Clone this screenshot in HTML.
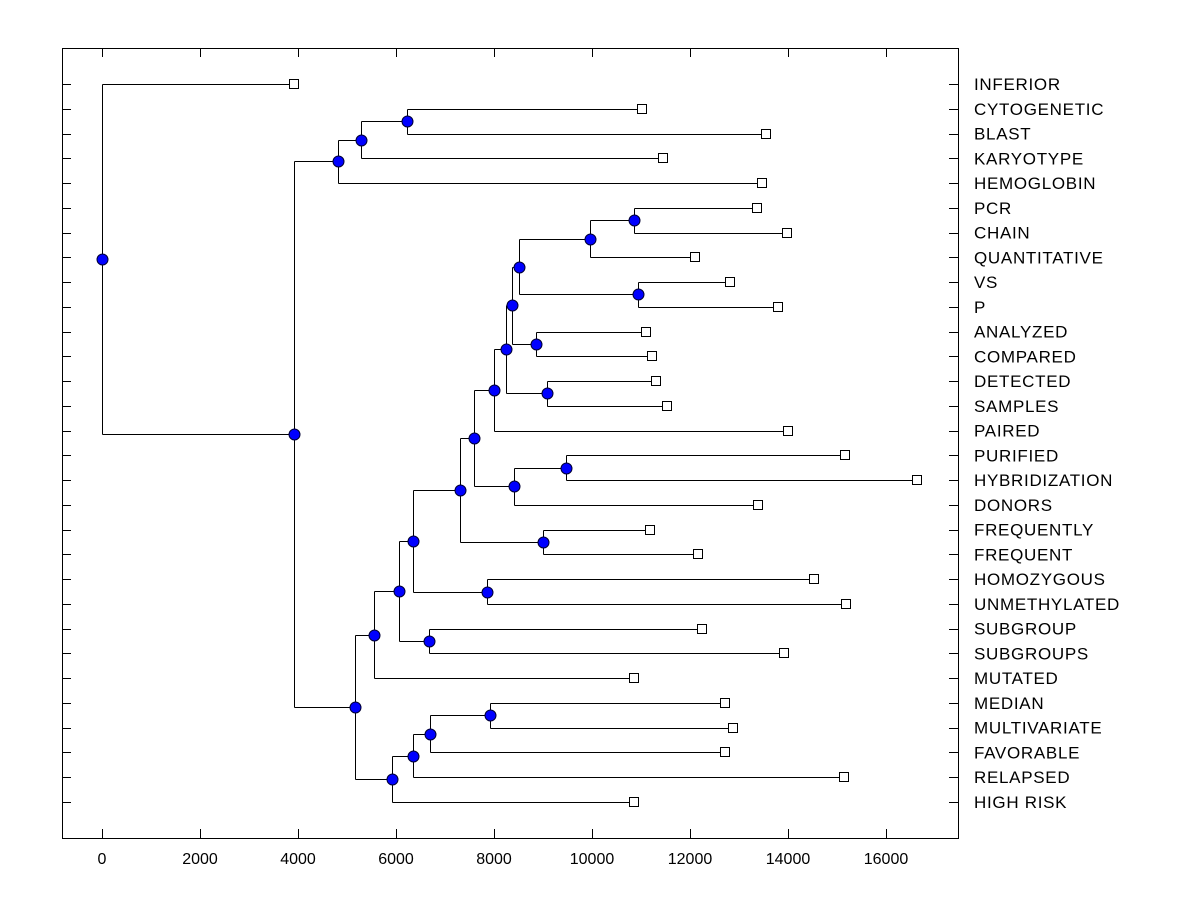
<!DOCTYPE html>
<html><head><meta charset="utf-8"><style>
body{margin:0;background:#fff;}
svg text{font-family:"Liberation Sans",Arial,sans-serif;}
</style></head><body>
<svg id="chart" width="1200" height="900" viewBox="0 0 1200 900" xmlns="http://www.w3.org/2000/svg">
<rect x="0" y="0" width="1200" height="900" fill="#fff"/>
<g id="g"></g>
</svg>
<script>
const labels = ["INFERIOR","CYTOGENETIC","BLAST","KARYOTYPE","HEMOGLOBIN","PCR","CHAIN","QUANTITATIVE","VS","P","ANALYZED","COMPARED","DETECTED","SAMPLES","PAIRED","PURIFIED","HYBRIDIZATION","DONORS","FREQUENTLY","FREQUENT","HOMOZYGOUS","UNMETHYLATED","SUBGROUP","SUBGROUPS","MUTATED","MEDIAN","MULTIVARIATE","FAVORABLE","RELAPSED","HIGH RISK"];
const leafValues = [3920,11020,13550,11450,13470,13370,13980,12100,12820,13800,11100,11220,11310,11530,14000,15160,16630,13390,11180,12160,14530,15180,12240,13920,10860,12710,12880,12710,15140,10860];
const mergeLeft = [5,30,8,31,10,33,12,35,37,15,39,38,18,41,20,43,22,45,47,25,49,50,51,48,1,54,55,56,0];
const mergeRight = [6,7,9,32,11,34,13,36,14,16,17,40,19,42,21,44,23,46,24,26,27,28,29,52,2,3,4,53,57];
const mergeHeights = [10860,9960,10940,8510,8860,8370,9080,8240,7990,9470,8410,7590,9000,7310,7860,6350,6670,6060,5550,7920,6690,6350,5920,5160,6220,5290,4816,3920,0];
const xTicks = [0,2000,4000,6000,8000,10000,12000,14000,16000];

const NS="http://www.w3.org/2000/svg";
const g=document.getElementById('g');
const L=62,R=958,T=48,B=838;
const xs=v=>102+v*0.049;
const ys=i=>84+i*(802-84)/29;
function el(t,a){const e=document.createElementNS(NS,t);for(const k in a)e.setAttribute(k,a[k]);g.appendChild(e);return e;}

let fr=el('rect',{x:L+0.5,y:T+0.5,width:R-L,height:B-T,fill:'none',stroke:'#000','stroke-width':1});


xTicks.forEach(v=>{
  const x=Math.round(xs(v))+0.5;
  let t1=el('line',{x1:x,y1:B,x2:x,y2:B-9,stroke:'#000'});
  
  
  let t2=el('line',{x1:x,y1:T,x2:x,y2:T+9,stroke:'#000'});
  
  
  let tx=el('text',{x:xs(v),y:864,'font-size':16,'text-anchor':'middle',fill:'#000'});
  tx.textContent=v;
  
  
});
labels.forEach((lb,i)=>{
  const y=Math.round(ys(i))+0.5;
  let a=el('line',{x1:L,y1:y,x2:L+9,y2:y,stroke:'#000'});
  
  
  let b=el('line',{x1:R,y1:y,x2:R-9,y2:y,stroke:'#000'});
  
  
  let t=el('text',{x:974,y:ys(i)+6,'font-size':17,'letter-spacing':0.7,fill:'#000'});
  t.textContent=lb;
  
  
});
const N=labels.length;
const pos=[];
for(let i=0;i<N;i++)pos[i]={x:xs(leafValues[i]),y:ys(i)};
for(let k=0;k<mergeLeft.length;k++){
  const a=pos[mergeLeft[k]],b=pos[mergeRight[k]];
  pos[N+k]={x:xs(mergeHeights[k]),y:(a.y+b.y)/2};
}
for(let k=0;k<mergeLeft.length;k++){
  const p=pos[N+k],a=pos[mergeLeft[k]],b=pos[mergeRight[k]];
  const x=Math.round(p.x)+0.5;
  let v=el('line',{x1:x,y1:Math.round(a.y)+0.5,x2:x,y2:Math.round(b.y)+0.5,stroke:'#000'});
  
  
  [a,b].forEach(c=>{
    let h=el('line',{x1:x,y1:Math.round(c.y)+0.5,x2:Math.round(c.x)+0.5,y2:Math.round(c.y)+0.5,stroke:'#000'});
    
    
  });
}
for(let i=0;i<N;i++){
  const p=pos[i];
  let s=el('rect',{x:Math.round(p.x)-4.5,y:Math.round(p.y)-4.5,width:9,height:9,fill:'#fff',stroke:'#000'});
  
  
}
for(let k=0;k<mergeLeft.length;k++){
  const p=pos[N+k];
  let c=el('circle',{cx:Math.round(p.x)+0.5,cy:Math.round(p.y)+0.5,r:5.5,fill:'#0000ff',stroke:'#000033','stroke-width':1});
  
  
}
</script>
</body></html>
